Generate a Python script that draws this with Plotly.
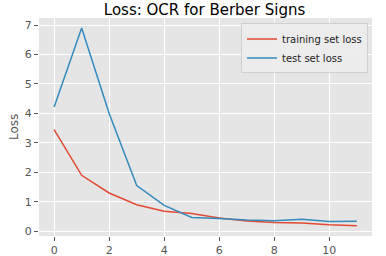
import plotly.graph_objects as go

epochs = list(range(12))
train_loss = [3.45, 1.90, 1.30, 0.90, 0.68, 0.60, 0.45, 0.35, 0.30, 0.28, 0.22, 0.19]
test_loss = [4.22, 6.90, 4.00, 1.55, 0.88, 0.47, 0.43, 0.38, 0.36, 0.41, 0.33, 0.34]
x_ticks = [0, 2, 4, 6, 8, 10]
y_ticks = [0, 1, 2, 3, 4, 5, 6, 7]

fig = go.Figure()
fig.add_trace(go.Scatter(x=epochs, y=train_loss, mode="lines", name="training set loss",
                         line=dict(color="#E24A33", width=1.5)))
fig.add_trace(go.Scatter(x=epochs, y=test_loss, mode="lines", name="test set loss",
                         line=dict(color="#348ABD", width=1.5)))

axis_common = dict(showgrid=True, gridcolor="white", gridwidth=1, zeroline=False,
                   ticks="outside", ticklen=4, tickcolor="#555555",
                   tickfont=dict(family="DejaVu Sans", size=11, color="#555555"),
                   showline=False, automargin=False)

fig.update_layout(
    width=386, height=256,
    margin=dict(l=39, r=14, t=18, b=20),
    paper_bgcolor="white", plot_bgcolor="#E5E5E5",
    title=dict(text="Loss: OCR for Berber Signs", x=0.53, xanchor="center", y=0.96, yanchor="middle",
               font=dict(family="DejaVu Sans", size=15, color="black")),
    xaxis=dict(range=[-0.55, 11.55], tickvals=x_ticks, **axis_common),
    yaxis=dict(range=[-0.16, 7.24], tickvals=y_ticks, **axis_common),
    annotations=[dict(text="Loss", xref="paper", yref="paper", x=-0.075, y=0.5,
                      xanchor="center", yanchor="middle", textangle=-90, showarrow=False,
                      font=dict(family="DejaVu Sans", size=12, color="#555555"))],
    legend=dict(x=0.988, y=0.975, xanchor="right", yanchor="top",
                bgcolor="rgba(236,236,236,0.9)", bordercolor="#D0D0D0", borderwidth=1,
                font=dict(family="DejaVu Sans", size=10, color="#222222"),
                itemwidth=30, tracegroupgap=0),
    showlegend=True,
)

fig.write_html("out.html", config={"displayModeBar": False},
               post_script="document.body.style.margin='0';document.body.style.overflow='hidden';")
